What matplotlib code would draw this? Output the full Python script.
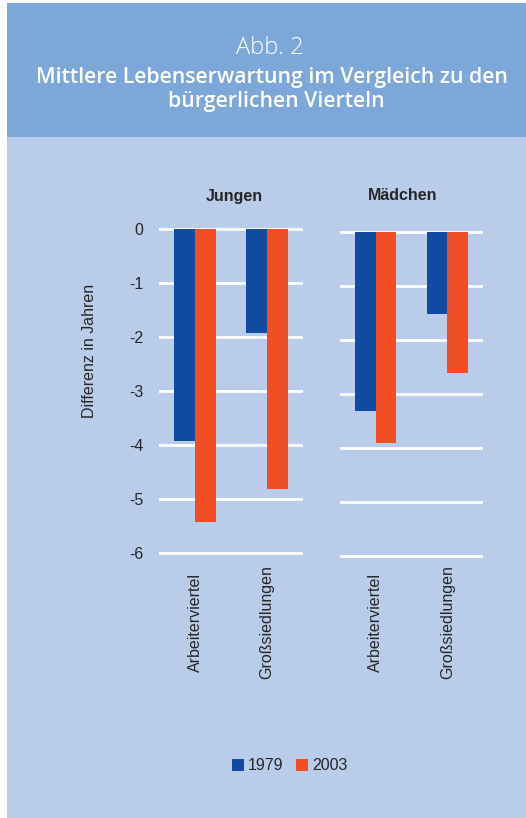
import matplotlib
matplotlib.use("Agg")
import matplotlib.pyplot as plt
from matplotlib.patches import Rectangle, Patch
import numpy as np

# Data
categories = ["Arbeiterviertel", "Großsiedlungen"]
panels = ["Jungen", "Mädchen"]
jungen_1979 = [-3.92, -1.92]
jungen_2003 = [-5.42, -4.81]
maedchen_1979 = [-3.31, -1.51]
maedchen_2003 = [-3.90, -2.61]
yticks = [0, -1, -2, -3, -4, -5, -6]
years = ["1979", "2003"]

c1979 = "#114B9F"
c2003 = "#F24E25"
header_col = "#7CA7D8"
body_col = "#B9CDEA"
txt = "#262626"

W, H = 526, 818
fig = plt.figure(figsize=(W / 100, H / 100), dpi=100, facecolor="white")
plt.rcParams["font.family"] = ["Liberation Sans", "DejaVu Sans"]

# Background panels (pixel coords -> figure fraction)
def fx(x):
    return x / W

def fy(y):
    return 1 - y / H

fig.patches.append(Rectangle((fx(7), fy(818)), fx(526) - fx(7), fy(137) - fy(818),
                             transform=fig.transFigure, facecolor=body_col,
                             edgecolor="none", zorder=-2))
fig.patches.append(Rectangle((fx(7), fy(137)), fx(526) - fx(7), fy(3) - fy(137),
                             transform=fig.transFigure, facecolor=header_col,
                             edgecolor="none", zorder=-2))

# Header text
fig.text(fx(270), fy(48), "Abb. 2", ha="center", va="center", color="white",
         fontsize=17, family=["Open Sans", "DejaVu Sans"], fontweight="light")
fig.text(fx(272), fy(77), "Mittlere Lebenserwartung im Vergleich zu den",
         ha="center", va="center", color="white", fontsize=15.3,
         family=["Open Sans", "DejaVu Sans"], fontweight="semibold")
fig.text(fx(276), fy(101), "bürgerlichen Vierteln",
         ha="center", va="center", color="white", fontsize=15.3,
         family=["Open Sans", "DejaVu Sans"], fontweight="semibold")

ylo, yhi = -6.1, 0.1
unit = 54.0
span = (yhi - ylo) * unit
label_center = 622  # pixel row of the rotated category labels


def make_axes(x0, x1, y_zero):
    top = y_zero - yhi * unit
    bottom = top + span
    ax = fig.add_axes([fx(x0), fy(bottom), fx(x1) - fx(x0), span / H])
    ax.set_facecolor("none")
    ax.set_xlim(-0.5, 1.5)
    ax.set_ylim(ylo, yhi)
    for s in ax.spines.values():
        s.set_visible(False)
    for v in yticks:
        ax.axhline(v, color="white", lw=2.0, zorder=1)
    pad = (label_center - bottom) * 72 / 100
    return ax, pad


ax_j, pad_j = make_axes(159, 303, 229)
ax_m, pad_m = make_axes(340, 483, 232)

bw = 0.285
x = np.arange(len(categories))
for ax, pad, v79, v03 in [(ax_j, pad_j, jungen_1979, jungen_2003),
                          (ax_m, pad_m, maedchen_1979, maedchen_2003)]:
    ax.bar(x - bw / 2, v79, bw, color=c1979, zorder=2)
    ax.bar(x + bw / 2, v03, bw, color=c2003, zorder=2)
    ax.set_xticks(x)
    ax.set_xticklabels(categories, rotation=90, fontsize=11.5, color=txt,
                       va="center")
    ax.tick_params(axis="x", length=0, pad=pad)

ax_j.set_yticks(yticks)
ax_j.set_yticklabels([str(v) if v == 0 else "-%d" % abs(v) for v in yticks],
                     fontsize=11.5, color=txt)
ax_j.tick_params(axis="y", length=0, pad=11)
ax_m.set_yticks([])

fig.text(fx(89), fy(351), "Differenz in Jahren", rotation=90, ha="center",
         va="center", fontsize=11.5, color=txt)

fig.text(fx(234), fy(196), panels[0], ha="center", va="center",
         fontsize=11.5, fontweight="bold", color=txt)
fig.text(fx(403), fy(196), panels[1], ha="center", va="center",
         fontsize=11.5, fontweight="bold", color=txt)

handles = [Patch(facecolor=c1979), Patch(facecolor=c2003)]
fig.legend(handles, years, loc="center", bbox_to_anchor=(fx(290), fy(766)),
           ncol=2, frameon=False, fontsize=11.5, handlelength=0.75,
           handleheight=0.75, handletextpad=0.25, columnspacing=0.8,
           labelcolor=txt)

fig.savefig("out.png", dpi=100, facecolor="white")
